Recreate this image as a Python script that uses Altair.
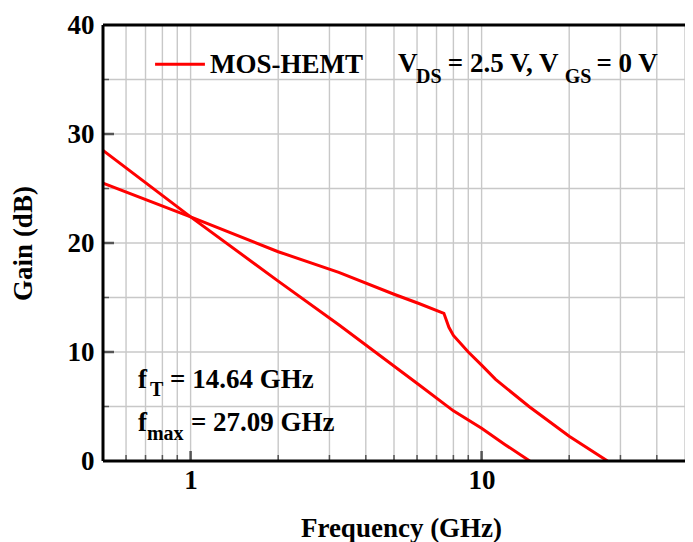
import altair as alt
import pandas as pd

# ---- data ----
freq_h21 = [0.5, 1, 2, 3.23, 6.09, 8, 10, 12.05, 14.64]
gain_h21 = [28.5, 22.4, 16.5, 12.5, 7.0, 4.6, 3.0, 1.5, 0.0]

freq_u = [0.5, 1, 2, 3.23, 5, 6.09, 7.42, 7.72, 8, 9, 10, 11.17, 14.55, 20, 27.09]
gain_u = [25.5, 22.4, 19.2, 17.3, 15.3, 14.45, 13.55, 12.27, 11.52, 10.0, 8.79, 7.49, 5.0, 2.27, 0.0]

x_grid = [0.6, 0.7, 0.8, 0.9, 1, 2, 3, 4, 5, 6, 7, 8, 9, 10, 20, 30, 40, 50]
x_major = [1, 10]
x_minor = [0.6, 0.7, 0.8, 0.9, 2, 3, 4, 5, 6, 7, 8, 9, 20, 30, 40]
y_grid = [5, 10, 15, 20, 25, 30, 35]
y_major = [10, 20, 30]
y_minor = [5, 15, 25, 35]
y_labels = [0, 10, 20, 30, 40]

# annotations (data units)
main_text = ["MOS-HEMT", "V", "= 2.5 V, V", "= 0 V", "f", "= 14.64 GHz", "f", "= 27.09 GHz"]
main_x = [1.166, 5.16, 7.65, 24.8, 0.660, 0.85, 0.660, 1.003]
main_y = [35.64, 35.73, 35.73, 35.73, 6.74, 6.74, 2.71, 2.71]
sub_text = ["DS", "GS", "T", "max"]
sub_x = [5.95, 19.3, 0.725, 0.708]
sub_y = [34.72, 34.72, 5.92, 1.97]
legend_x = [0.755, 1.12]
legend_y = [36.4, 36.4]

W, H = 582, 436
FONT = "Liberation Serif"
RED = "#ff0000"

lines = pd.concat([
    pd.DataFrame({"x": freq_h21, "y": gain_h21, "s": "h21"}),
    pd.DataFrame({"x": freq_u, "y": gain_u, "s": "u"}),
])

xs = alt.Scale(type="log", domain=[0.5, 50], nice=False)
ys = alt.Scale(domain=[0, 40], nice=False, zero=False)

xa = alt.Axis(values=x_major, format="~g", grid=False, ticks=False, domain=False,
              labelFont=FONT, labelFontSize=27, labelFontWeight="bold", labelColor="black",
              labelPadding=6, labelFlush=False,
              title="Frequency (GHz)", titleFont=FONT, titleFontSize=27, titleFontWeight="bold",
              titleColor="black", titleX=298, titleY=75, titleAnchor="middle",
              titleAlign="center", titleBaseline="alphabetic")
ya = alt.Axis(values=y_labels, grid=False, ticks=False, domain=False,
              labelFont=FONT, labelFontSize=27, labelFontWeight="bold", labelColor="black",
              labelPadding=9, labelFlush=False,
              title="Gain (dB)", titleFont=FONT, titleFontSize=27, titleFontWeight="bold",
              titleColor="black", titleX=-80, titleY=218, titleAngle=-90,
              titleAlign="center", titleBaseline="middle")


def X():
    return alt.X("x:Q", scale=xs, axis=xa)


def Y():
    return alt.Y("y:Q", scale=ys, axis=ya)


gx = alt.Chart(pd.DataFrame({"x": x_grid})).mark_rule(color="#c8c8c8", strokeWidth=1.4).encode(x=X())
gy = alt.Chart(pd.DataFrame({"y": y_grid})).mark_rule(color="#c8c8c8", strokeWidth=1.4).encode(y=Y())

tx_min = alt.Chart(pd.DataFrame({"x": x_minor})).mark_rule(color="#555555", strokeWidth=1.5).encode(
    x=X(), y=alt.value(H), y2=alt.value(H - 6))
tx_maj = alt.Chart(pd.DataFrame({"x": x_major})).mark_rule(color="#555555", strokeWidth=2.5).encode(
    x=X(), y=alt.value(H), y2=alt.value(H - 10))
ty_min = alt.Chart(pd.DataFrame({"y": y_minor})).mark_rule(color="#555555", strokeWidth=1.5).encode(
    y=Y(), x=alt.value(0), x2=alt.value(6))
ty_maj = alt.Chart(pd.DataFrame({"y": y_major})).mark_rule(color="#555555", strokeWidth=2.5).encode(
    y=Y(), x=alt.value(0), x2=alt.value(11))

curves = alt.Chart(lines).mark_line(color=RED, strokeWidth=3, clip=True).encode(
    x=X(), y=Y(), detail="s:N")

leg = alt.Chart(pd.DataFrame({"x": legend_x, "y": legend_y})).mark_line(color=RED, strokeWidth=3).encode(
    x=X(), y=Y())

t_main = alt.Chart(pd.DataFrame({"x": main_x, "y": main_y, "t": main_text})).mark_text(
    font=FONT, fontSize=27, fontWeight="bold", color="black", align="left", baseline="alphabetic"
).encode(x=X(), y=Y(), text="t:N")
t_sub = alt.Chart(pd.DataFrame({"x": sub_x, "y": sub_y, "t": sub_text})).mark_text(
    font=FONT, fontSize=20, fontWeight="bold", color="black", align="left", baseline="alphabetic"
).encode(x=X(), y=Y(), text="t:N")

frame_b = alt.Chart(pd.DataFrame({"y": [0]})).mark_rule(color="black", strokeWidth=3).encode(y=Y())
frame_t = alt.Chart(pd.DataFrame({"y": [40]})).mark_rule(color="black", strokeWidth=3).encode(y=Y())
frame_l = alt.Chart(pd.DataFrame({"x": [0.5]})).mark_rule(color="black", strokeWidth=3).encode(x=X())

chart = alt.layer(
    gx, gy, curves, leg, t_main, t_sub, tx_min, tx_maj, ty_min, ty_maj, frame_b, frame_t, frame_l
).properties(
    width=W, height=H,
    autosize=alt.AutoSizeParams(type="none"),
    padding={"left": 95, "top": 17, "right": 0, "bottom": 81},
).configure_view(stroke=None).configure(background="white")

chart.save("out.html", embed_options={"renderer": "svg", "actions": False})
